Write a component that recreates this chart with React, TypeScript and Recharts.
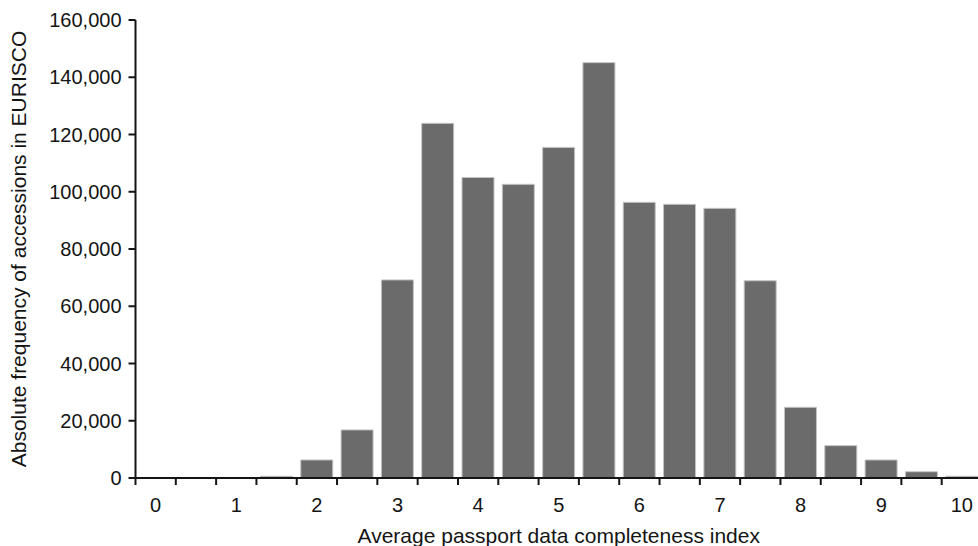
import React from "react";
import { BarChart, Bar, XAxis, YAxis } from "recharts";

const categories = ["0", "0.5", "1", "1.5", "2", "2.5", "3", "3.5", "4", "4.5", "5", "5.5", "6", "6.5", "7", "7.5", "8", "8.5", "9", "9.5", "10"];
const frequencies = [0, 0, 0, 600, 6300, 16800, 69200, 123900, 105000, 102600, 115500, 145100, 96300, 95600, 94200, 68900, 24700, 11300, 6300, 2200, 600];
const yTicks = [0, 20000, 40000, 60000, 80000, 100000, 120000, 140000, 160000];

const data = categories.map((c, i) => ({ cat: c, value: frequencies[i] }));

const FONT = '"Liberation Sans", Arial, Helvetica, sans-serif';
const INK = "#141414";

const XTick = (props: any) => {
  const { x, y, payload } = props;
  const half = payload && payload.offset != null ? payload.offset : 0;
  const axisY = y - 7;
  const v = String(payload.value);
  const isInt = Number.isInteger(Number(v));
  return (
    <g>
      <line x1={x - half} x2={x - half} y1={axisY} y2={axisY + 7} stroke={INK} strokeWidth={2} />
      {isInt ? (
        <text x={x} y={y + 27} textAnchor="middle" fontSize={20} fill={INK} fontFamily={FONT}>
          {v}
        </text>
      ) : null}
    </g>
  );
};

export default function App() {
  return (
    <div style={{ position: "absolute", left: 0, top: 0, width: 978, height: 546, overflow: "hidden", background: "#fff" }}>
      <BarChart
        width={982}
        height={546}
        data={data}
        margin={{ top: 20, right: 0, bottom: 0, left: 0 }}
        barCategoryGap="10%"
        style={{ fontFamily: FONT }}
      >
        <XAxis
          dataKey="cat"
          height={68}
          tickLine={false}
          tickSize={7}
          tickMargin={0}
          interval={0}
          axisLine={{ stroke: INK, strokeWidth: 2 }}
          tick={<XTick />}
          label={{
            value: "Average passport data completeness index",
            position: "insideBottom",
            offset: 3,
            style: { fontSize: 21, fill: INK, fontFamily: FONT },
          }}
        />
        <YAxis
          width={135.5}
          domain={[0, 160000]}
          ticks={yTicks}
          interval={0}
          tickSize={7}
          tickMargin={7}
          tickFormatter={(v: number) => v.toLocaleString("en-US")}
          tick={{ fontSize: 20, fill: INK, fontFamily: FONT }}
          tickLine={{ stroke: INK, strokeWidth: 2 }}
          axisLine={{ stroke: INK, strokeWidth: 2 }}
          label={{
            value: "Absolute frequency of accessions in EURISCO",
            angle: -90,
            position: "insideLeft",
            offset: 19,
            style: { fontSize: 21, fill: INK, fontFamily: FONT, textAnchor: "middle" },
          }}
        />
        <Bar dataKey="value" fill="#6b6b6b" stroke="#c4c4c4" strokeWidth={1} isAnimationActive={false} />
      </BarChart>
    </div>
  );
}
